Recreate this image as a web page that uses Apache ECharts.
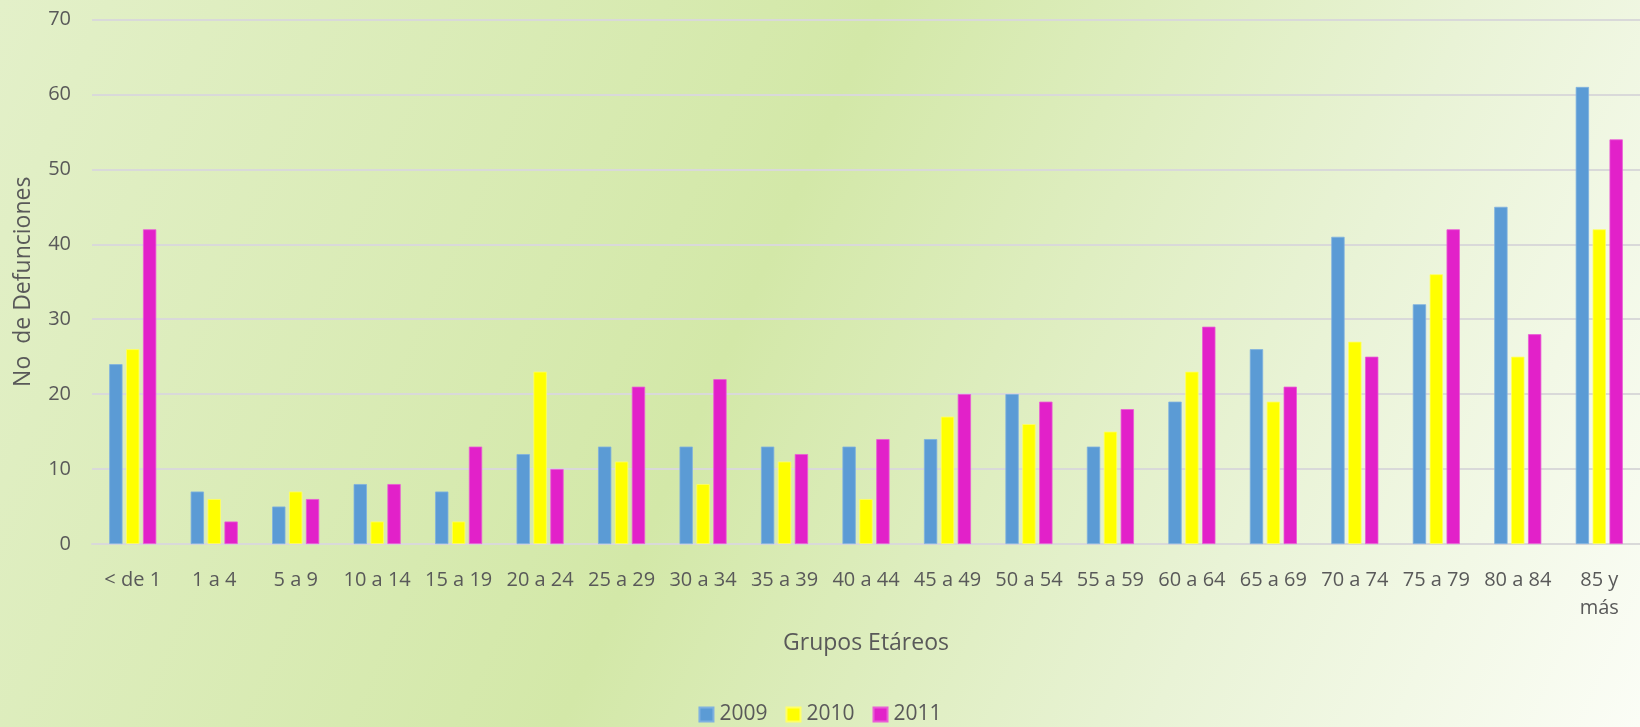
<!DOCTYPE html>
<html>
<head>
<meta charset="utf-8">
<script src="https://cdn.jsdelivr.net/npm/echarts@6/dist/echarts.min.js"></script>
<style>
html,body{margin:0;padding:0;}
#c{width:1640px;height:727px;}
</style>
</head>
<body>
<div id="c"></div>
<script>
const categories = ['< de 1','1 a 4','5 a 9','10 a 14','15 a 19','20 a 24','25 a 29','30 a 34','35 a 39','40 a 44','45 a 49','50 a 54','55 a 59','60 a 64','65 a 69','70 a 74','75 a 79','80 a 84','85 y\nmás'];
const seriesNames = ['2009','2010','2011'];
const data2009 = [24,7,5,8,7,12,13,13,13,13,14,20,13,19,26,41,32,45,61];
const data2010 = [26,6,7,3,3,23,11,8,11,6,17,16,15,23,19,27,36,25,42];
const data2011 = [42,3,6,8,13,10,21,22,12,14,20,19,18,29,21,25,42,28,54];
const yTicks = {min:0, max:70, interval:10};
const colors = ['#5b9bd5','#ffff00','#e221c9'];
const borders = ['#7fb1e0','#ffff66','#ea5cd6'];

const chart = echarts.init(document.getElementById('c'));
const font = '"Open Sans", "DejaVu Sans", sans-serif';
const txt = '#595959';
const allData = [data2009, data2010, data2011];
chart.setOption({
  backgroundColor: {
    type:'linear', x:0, y:0, x2:1, y2:1,
    colorStops:[
      {offset:0, color:'#e3f0c9'},
      {offset:0.45, color:'#d3e8a8'},
      {offset:0.75, color:'#e9f3d6'},
      {offset:1, color:'#fbfdf6'}
    ]
  },
  animation:false,
  textStyle:{fontFamily:font},
  grid:{left:92, right:0, top:19.5, bottom:183, containLabel:false},
  legend:{
    data:seriesNames, bottom:-3, left:'center',
    itemWidth:14, itemHeight:14, itemGap:18, icon:'rect',
    textStyle:{fontSize:21, color:txt, fontFamily:font, padding:[0,0,0,1]}
  },
  xAxis:{
    type:'category', data:categories,
    name:'Grupos Etáreos', nameLocation:'middle', nameGap:88,
    nameTextStyle:{fontSize:23, color:txt, fontFamily:font, verticalAlign:'top'},
    axisLine:{lineStyle:{color:'#d9d9d9', width:2}},
    axisTick:{show:false},
    axisLabel:{interval:0, fontSize:20, color:txt, margin:22, lineHeight:28, fontFamily:font}
  },
  yAxis:{
    type:'value', min:yTicks.min, max:yTicks.max, interval:yTicks.interval,
    name:'No  de Defunciones', nameLocation:'middle', nameGap:57,
    nameTextStyle:{fontSize:23, color:txt, fontFamily:font},
    axisLine:{show:false}, axisTick:{show:false},
    axisLabel:{fontSize:20, color:txt, margin:21, fontFamily:font},
    splitLine:{lineStyle:{color:'#d9d9d9', width:2}}
  },
  series: seriesNames.map((n,i)=>({
    name:n, type:'bar', data:allData[i],
    barWidth:13.3, barGap:'27%', barCategoryGap:'42%',
    itemStyle:{color:colors[i], borderColor:borders[i], borderWidth:0.8}
  }))
});
</script>
</body>
</html>
